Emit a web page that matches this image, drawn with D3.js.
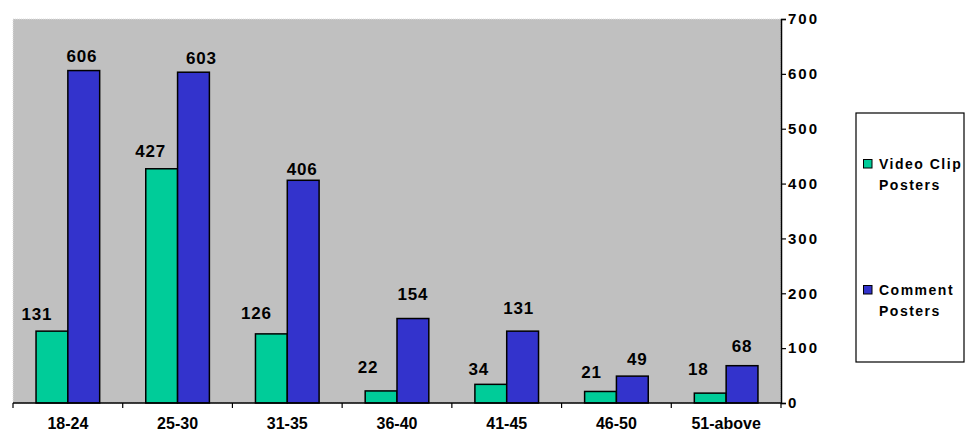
<!DOCTYPE html>
<html>
<head>
<meta charset="utf-8">
<script src="https://cdn.jsdelivr.net/npm/d3@7"></script>
<style>
  body { margin: 0; background: #fff; }
  text { font-family: "Liberation Sans", Arial, sans-serif; font-weight: bold; fill: #000; }
</style>
</head>
<body>
<div id="chart"></div>
<script>
// age groups and the two series
var ageGroups = ["18-24", "25-30", "31-35", "36-40", "41-45", "46-50", "51-above"];
var seriesNames = ["Video Clip Posters", "Comment Posters"];
var videoClipPosters = [131, 427, 126, 22, 34, 21, 18];
var commentPosters = [606, 603, 406, 154, 131, 49, 68];
var yTicks = [0, 100, 200, 300, 400, 500, 600, 700];

// label nudges (px) so the value labels sit where the original put them
var labelDx = [[-15, -11, -15, -13, -12, -9, -12], [-2, 8, -1, 0, -4, 5, 0]];
var labelGap = [[11, 12, 15, 18, 9, 13, 18], [9, 8, 5, 19, 17, 11, 14]];

var colors = ["#00cc99", "#3333cc"];

var width = 972, height = 440;
var margin = {top: 19, right: 191, bottom: 37, left: 13};
var plotW = width - margin.left - margin.right,
    plotH = height - margin.top - margin.bottom;

var svg = d3.select("#chart").append("svg")
    .attr("width", width)
    .attr("height", height);

var g = svg.append("g")
    .attr("transform", "translate(" + margin.left + "," + margin.top + ")");

var x = d3.scaleBand().domain(ageGroups).range([0, plotW]);
var xInner = d3.scaleBand().domain([0, 1])
    .range([x.bandwidth() * 0.21, x.bandwidth() * 0.79]);
var y = d3.scaleLinear().domain([0, 700]).range([plotH, 0]);

// grey plot area with dotted border
g.append("rect")
    .attr("width", plotW).attr("height", plotH)
    .attr("fill", "#c0c0c0")
    .attr("stroke", "#e0e0e0")
    .attr("stroke-dasharray", "1,1");

var data = [videoClipPosters, commentPosters];

data.forEach(function(values, s) {
  g.append("g").selectAll("rect")
    .data(values)
    .enter().append("rect")
      .attr("x", function(d, i) { return x(ageGroups[i]) + xInner(s); })
      .attr("y", function(d) { return y(d); })
      .attr("width", xInner.bandwidth())
      .attr("height", function(d) { return plotH - y(d); })
      .attr("fill", colors[s])
      .attr("stroke", "#000")
      .attr("stroke-width", 1.5);

  g.append("g").selectAll("text")
    .data(values)
    .enter().append("text")
      .attr("x", function(d, i) { return x(ageGroups[i]) + xInner(s) + xInner.bandwidth() / 2 + labelDx[s][i]; })
      .attr("y", function(d, i) { return y(d) - labelGap[s][i]; })
      .attr("text-anchor", "middle")
      .style("font-size", "17px")
      .style("letter-spacing", "0.8px")
      .text(function(d) { return d; });
});

// x axis: ticks at band edges
var xAxis = g.append("g").attr("transform", "translate(0," + plotH + ")");
xAxis.append("line").attr("x1", 0).attr("x2", plotW)
    .attr("stroke", "#000").attr("stroke-width", 1.5);
xAxis.selectAll(".tk")
  .data(ageGroups.concat(["end"]))
  .enter().append("line")
    .attr("x1", function(d, i) { return i * x.step(); })
    .attr("x2", function(d, i) { return i * x.step(); })
    .attr("y1", 0).attr("y2", 5)
    .attr("stroke", "#000").attr("stroke-width", 1.2);
xAxis.selectAll("text")
  .data(ageGroups)
  .enter().append("text")
    .attr("x", function(d) { return x(d) + x.bandwidth() / 2; })
    .attr("y", 26)
    .attr("text-anchor", "middle")
    .style("font-size", "16px")
    .text(function(d) { return d; });

// y axis on the right
var yAxis = g.append("g")
    .attr("transform", "translate(" + plotW + ",0)")
    .call(d3.axisRight(y).tickValues(yTicks).tickSize(5).tickPadding(2));
yAxis.select(".domain").attr("stroke", "#000").attr("stroke-width", 1.5);
yAxis.selectAll(".tick line").attr("stroke", "#000").attr("stroke-width", 1.2);
yAxis.selectAll(".tick text")
    .style("font-size", "15px")
    .style("letter-spacing", "2px")
    .style("font-family", "'Liberation Sans', Arial, sans-serif")
    .style("font-weight", "bold")
    .attr("fill", "#000");

// legend
var legend = svg.append("g").attr("transform", "translate(856,113)");
legend.append("rect")
    .attr("width", 108).attr("height", 249)
    .attr("fill", "#fff").attr("stroke", "#000").attr("stroke-width", 1.2);

var legendY = [46, 172];
seriesNames.forEach(function(name, s) {
  var item = legend.append("g").attr("transform", "translate(0," + legendY[s] + ")");
  item.append("rect")
      .attr("x", 7.5).attr("y", 0.5)
      .attr("width", 8.5).attr("height", 8.5)
      .attr("fill", colors[s]).attr("stroke", "#000").attr("stroke-width", 1);
  var words = name.split(" ");
  var lines = [words.slice(0, words.length - 1).join(" "), words[words.length - 1]];
  lines.forEach(function(line, k) {
    item.append("text")
        .attr("x", 23)
        .attr("y", 10 + k * 21)
        .style("font-size", "14px")
        .style("letter-spacing", "1.5px")
        .text(line);
  });
});
</script>
</body>
</html>
